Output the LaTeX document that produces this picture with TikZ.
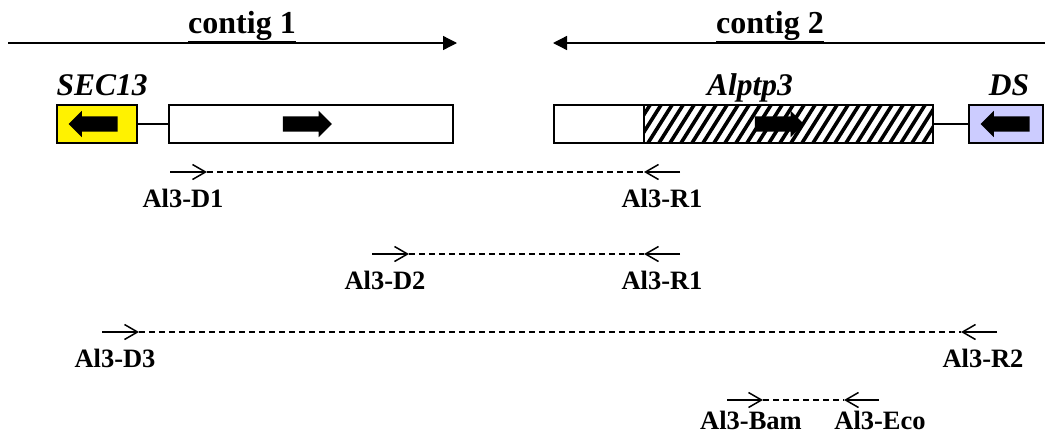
\documentclass[tikz,border=0pt]{standalone}
\usepackage{fontspec}
\setmainfont{Liberation Serif}
\usepackage{xcolor}
\usetikzlibrary{arrows.meta, positioning, shapes.arrows}

\definecolor{dsblue}{RGB}{204,204,255}

\begin{document}
\begin{tikzpicture}[
    x=1pt, y=-1pt,
    gene/.style={rectangle, draw, line width=1.3pt, minimum height=38pt, inner sep=0pt},
    hatch/.style={path picture={
        \foreach \s in {-40,-29,...,300}
          \draw[line width=3.6pt] ([xshift=\s pt]path picture bounding box.south west) -- ++(24,-38);}},
    blk/.style={single arrow, fill=black, draw=none, minimum height=49pt,
                single arrow head extend=5.5pt, inner xsep=0pt, inner ysep=7.5pt},
    blkl/.style={blk, shape border rotate=180},
    contig/.style={line width=1.3pt, -{Triangle[length=14pt, width=14pt]}},
    link/.style={line width=1.3pt},
    primer/.style={line width=1.6pt, -{Straight Barb[length=13pt, width=15pt, line width=1.5pt]}},
    amp/.style={line width=1.4pt, dash pattern=on 6pt off 4pt},
    plab/.style={font=\fontsize{26.5}{26.5}\selectfont\bfseries, anchor=base},
    glab/.style={font=\fontsize{31.5}{31.5}\selectfont\bfseries\itshape, anchor=base},
    clab/.style={font=\fontsize{32}{32}\selectfont\bfseries, anchor=base},
  ]
    \useasboundingbox (0,0) rectangle (1045,440);
    % contigs
    \coordinate (c1s) at (8,43);
    \coordinate (c1e) at (457,43);
    \coordinate (c2s) at (1045,43);
    \coordinate (c2e) at (553,43);
    \draw[contig] (c1s) -- (c1e);
    \draw[contig] (c2s) -- (c2e);
    \node[clab] (c1lab) at (242,33) {\underline{contig 1}};
    \node[clab] (c2lab) at (770,33) {\underline{contig 2}};
    % genes
    \node[gene, fill=yellow, minimum width=80pt] (sec13) at (97,124) {};
    \node[gene, minimum width=284pt] (orf1) at (311,124) {};
    \node[gene, minimum width=90pt] (utr3) at (599,124) {};
    \node[gene, hatch, minimum width=289pt] (alptp3) at (788.5,124) {};
    \node[gene, fill=dsblue, minimum width=74pt] (ds) at (1006,124) {};
    \draw[link] (sec13.east) -- (orf1.west);
    \draw[link] (alptp3.east) -- (ds.west);
    \node[blkl] (a0) at (97,124) {};
    \node[blk] (a1) at (303.5,124) {};
    \node[blk] (a2) at (775.5,124) {};
    \node[blkl] (a3) at (1009,124) {};
    \node[glab, anchor=base west] (lsec13) at (53,95) {SEC13};
    \node[glab] (lalptp3) at (750,95) {Alptp3};
    \node[glab] (lds) at (1009,95) {DS};
    % primers
    \foreach \r/\y/\xf/\xr/\lf/\lr/\pf/\pr in {1/172/170/680/D1/R1/183/662,
        2/254/372/680/D2/R1/385/662, 3/332/102/997/D3/R2/115/983}{
      \coordinate (f\r) at (\xf,\y);
      \coordinate (fe\r) at (\xf+37,\y);
      \coordinate (r\r) at (\xr,\y);
      \coordinate (re\r) at (\xr-36,\y);
      \draw[primer] (f\r) -- (fe\r);
      \draw[primer] (r\r) -- (re\r);
      \draw[amp] (fe\r) -- (re\r);
      \node[plab] (lf\r) at (\pf,\y+35) {Al3-\lf};
      \node[plab] (lr\r) at (\pr,\y+35) {Al3-\lr};
    }
    \coordinate (f4) at (727,400);
    \coordinate (fe4) at (763,400);
    \coordinate (r4) at (879,400);
    \coordinate (re4) at (844,400);
    \draw[primer] (f4) -- (fe4);
    \draw[primer] (r4) -- (re4);
    \draw[amp] (fe4) -- (re4);
    \node[plab] (lbam) at (751,429) {Al3-Bam};
    \node[plab] (leco) at (880,429) {Al3-Eco};
  \end{tikzpicture}
\end{document}
